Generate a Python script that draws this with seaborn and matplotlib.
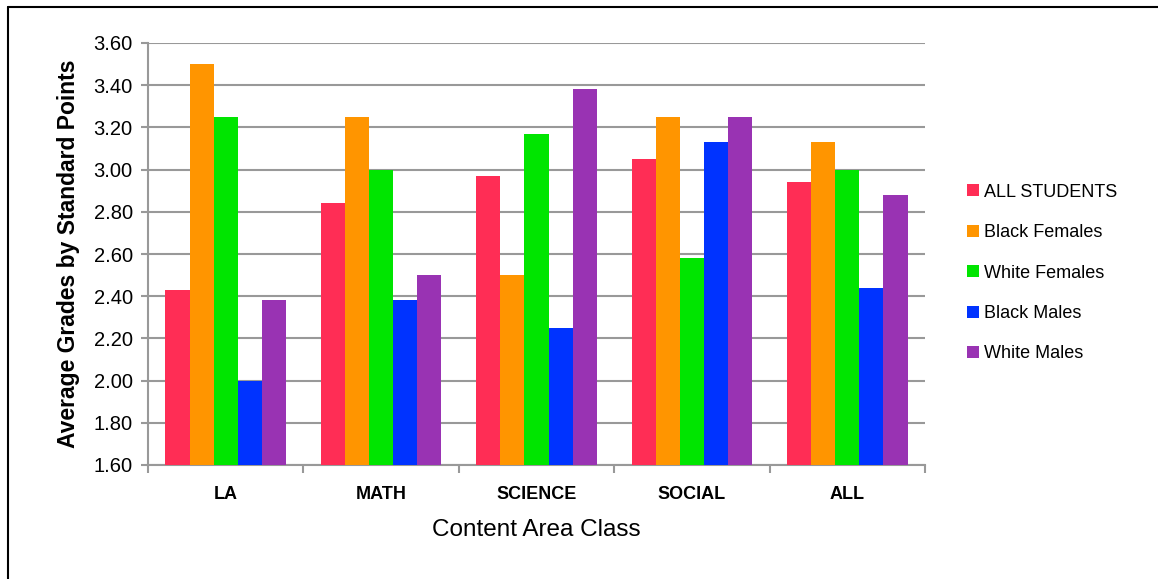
import numpy as np
import pandas as pd
import matplotlib
matplotlib.use('Agg')
import matplotlib.pyplot as plt
import seaborn as sns

# data
classes = ['LA', 'MATH', 'SCIENCE', 'SOCIAL', 'ALL']
groups = ['ALL STUDENTS', 'Black Females', 'White Females', 'Black Males', 'White Males']
all_students = [2.43, 2.84, 2.97, 3.05, 2.94]
black_females = [3.50, 3.25, 2.50, 3.25, 3.13]
white_females = [3.25, 3.00, 3.17, 2.58, 3.00]
black_males = [2.00, 2.38, 2.25, 3.13, 2.44]
white_males = [2.38, 2.50, 3.38, 3.25, 2.88]
yticks = [1.60, 1.80, 2.00, 2.20, 2.40, 2.60, 2.80, 3.00, 3.20, 3.40, 3.60]

group_colors = ['#FF2D55', '#FF9500', '#00E500', '#0033FF', '#9933B3']

series = [all_students, black_females, white_females, black_males, white_males]
rows = []
for g, vals in zip(groups, series):
    for c, v in zip(classes, vals):
        rows.append({'Class': c, 'Group': g, 'Grade': v})
df = pd.DataFrame(rows)

sns.set_style('white')
plt.rcParams['font.family'] = ['Liberation Sans', 'DejaVu Sans']
plt.rcParams.update({'text.color': 'black', 'axes.labelcolor': 'black',
                     'xtick.color': 'black', 'ytick.color': 'black'})

fig = plt.figure(figsize=(11.58, 5.79), dpi=100)
ax = fig.add_axes([148/1158, 1 - 465/579, (925-148)/1158, (465-43)/579])

sns.barplot(data=df, x='Class', y='Grade', hue='Group', order=classes,
            hue_order=groups, palette=group_colors, width=0.775,
            saturation=1, linewidth=0, ax=ax, legend=True, zorder=3)
ax.set_ylim(1.60, 3.60)
ax.set_xlim(-0.5, len(classes) - 0.5)

ax.set_yticks(yticks)
ax.set_yticklabels([f'{t:.2f}' for t in yticks], fontsize=14.5)
ax.yaxis.grid(True, color='#999999', linewidth=1.5, zorder=0)
ax.set_axisbelow(True)

ax.set_xticks(range(len(classes)))
ax.set_xticklabels(classes, fontsize=13, fontweight='bold',
                   family=['Liberation Sans Narrow', 'Liberation Sans'])
ax.tick_params(axis='x', length=0, pad=15)
ax.tick_params(axis='y', length=5, width=1.5, color='#999999', labelcolor='black', pad=6, left=True)
# minor ticks at category boundaries on the x axis
ax.set_xticks(np.arange(-0.5, len(classes)), minor=True)
ax.tick_params(axis='x', which='minor', length=6, width=1.5, color='#999999', bottom=True)

for s in ['top', 'right']:
    ax.spines[s].set_visible(False)
for s in ['left', 'bottom']:
    ax.spines[s].set_color('#999999')
    ax.spines[s].set_linewidth(1.5)

ax.set_xlabel('Content Area Class', fontsize=17.5, labelpad=12)
ax.set_ylabel('Average Grades by Standard Points', fontsize=16.5, fontweight='bold', labelpad=10)

handles, labels = ax.get_legend_handles_labels()
ax.legend(handles, labels, loc='center left', bbox_to_anchor=(958/1158, 1 - 273/579),
          bbox_transform=fig.transFigure, frameon=False, fontsize=13,
          handlelength=0.65, handleheight=0.65, handletextpad=0.3,
          labelspacing=1.3, borderpad=0)

# frame line along the top and left of the picture
fig.add_artist(plt.Line2D([8/1158, 8/1158], [0, 1 - 7/579], color='black', linewidth=1.5,
                          transform=fig.transFigure))
fig.add_artist(plt.Line2D([8/1158, 1], [1 - 7/579, 1 - 7/579], color='black', linewidth=1.5,
                          transform=fig.transFigure))

fig.savefig('out.png', dpi=100, facecolor='white')
